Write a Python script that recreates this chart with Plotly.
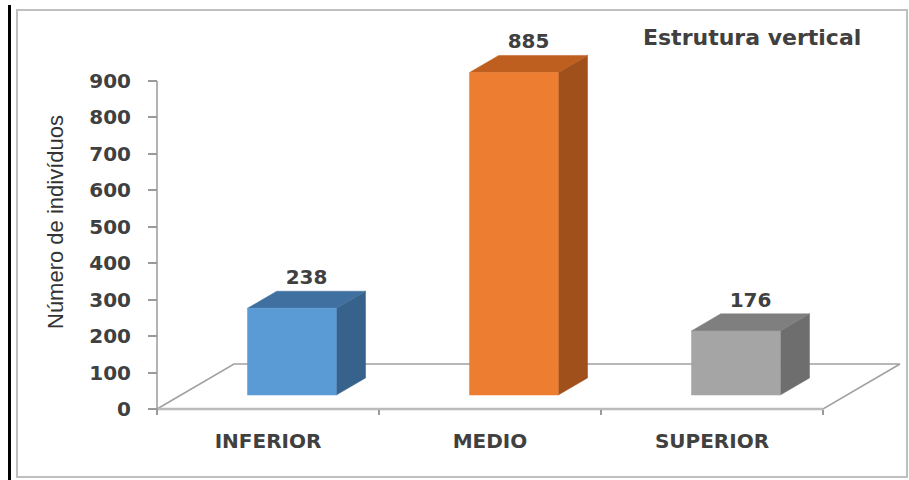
import plotly.graph_objects as go

# ---- data ----
categories = ["INFERIOR", "MEDIO", "SUPERIOR"]
values = [238, 885, 176]
y_ticks = [0, 100, 200, 300, 400, 500, 600, 700, 800, 900]
front_colors = ["#5B9BD5", "#ED7D31", "#A5A5A5"]
top_colors = ["#40709F", "#BE5F1F", "#7F7F7F"]
side_colors = ["#36628C", "#A0511B", "#6E6E6E"]

# ---- layout geometry (pixels) ----
W, H = 909, 480
X0_PX = 157.0          # floor front-left corner x
Y0_PX = 409.0          # value 0 at floor front
PX_PER_CAT = 222.0
PX_PER_UNIT = 328.0 / 900.0

x_range = [-0.5 - X0_PX / PX_PER_CAT, -0.5 + (W - X0_PX) / PX_PER_CAT]
y_range = [-(H - Y0_PX) / PX_PER_UNIT, Y0_PX / PX_PER_UNIT]

# 3D depth of floor (in data units)
DX = 77.0 / PX_PER_CAT
DY = 45.0 / PX_PER_UNIT
F1, F2 = 0.31, 0.69     # bar front/back depth fractions
HW = 0.20               # bar half width (category units)

n = len(categories)
fig = go.Figure()

# floor
fx = [-0.5, n - 0.5, n - 0.5 + DX, -0.5 + DX, -0.5]
fy = [0, 0, DY, DY, 0]
fig.add_trace(go.Scatter(x=fx, y=fy, mode="lines", fill="toself", fillcolor="white",
                         line=dict(color="#A0A0A0", width=1.5), hoverinfo="skip", showlegend=False))
# front edge of floor (thicker)
fig.add_trace(go.Scatter(x=[-0.5, n - 0.5], y=[0, 0], mode="lines",
                         line=dict(color="#BBBBBB", width=2.5), hoverinfo="skip", showlegend=False))
# vertical axis line
fig.add_trace(go.Scatter(x=[-0.5, -0.5], y=[-12, y_ticks[-1]], mode="lines",
                         line=dict(color="#9A9A9A", width=1.5), hoverinfo="skip", showlegend=False))

lab_x, lab_y = [], []
for i, v in enumerate(values):
    c = i
    xl1, xr1 = c + F1 * DX - HW, c + F1 * DX + HW
    xl2, xr2 = c + F2 * DX - HW, c + F2 * DX + HW
    yb1, yb2 = F1 * DY, F2 * DY
    # side face
    fig.add_trace(go.Scatter(x=[xr1, xr2, xr2, xr1, xr1], y=[yb1 + v, yb2 + v, yb2, yb1, yb1 + v],
                             mode="lines", fill="toself", fillcolor=side_colors[i],
                             line=dict(color=side_colors[i], width=0.5), hoverinfo="skip", showlegend=False))
    # top face
    fig.add_trace(go.Scatter(x=[xl1, xr1, xr2, xl2, xl1], y=[yb1 + v, yb1 + v, yb2 + v, yb2 + v, yb1 + v],
                             mode="lines", fill="toself", fillcolor=top_colors[i],
                             line=dict(color=top_colors[i], width=0.5), hoverinfo="skip", showlegend=False))
    # front face
    fig.add_trace(go.Scatter(x=[xl1, xr1, xr1, xl1, xl1], y=[yb1, yb1, yb1 + v, yb1 + v, yb1],
                             mode="lines", fill="toself", fillcolor=front_colors[i],
                             line=dict(color=front_colors[i], width=0.5), hoverinfo="skip", showlegend=False))
    lab_x.append(c + (F1 + F2) / 2 * DX)
    lab_y.append(yb2 + v + 12.0 / PX_PER_UNIT)

text_color = "#404040"

# data labels
fig.add_trace(go.Scatter(x=lab_x, y=lab_y, mode="text", text=[str(v) for v in values],
                         textposition="middle center",
                         textfont=dict(family="DejaVu Sans", size=20, color=text_color, weight="bold"),
                         hoverinfo="skip", showlegend=False, cliponaxis=False))

# dummy trace to carry the category / value axes
fig.add_trace(go.Scatter(x=categories, y=values, xaxis="x2", yaxis="y2", mode="markers",
                         marker=dict(opacity=0), hoverinfo="skip", showlegend=False))

tick_font = dict(family="DejaVu Sans", size=20, color=text_color, weight="bold")

fig.update_layout(
    width=W, height=H, autosize=False,
    margin=dict(l=0, r=0, t=0, b=0),
    paper_bgcolor="white", plot_bgcolor="white",
    xaxis=dict(range=x_range, visible=False, fixedrange=True),
    yaxis=dict(range=y_range, visible=False, fixedrange=True),
    xaxis2=dict(overlaying="x", anchor="free", position=(H - Y0_PX) / H, side="bottom",
                type="category", categoryorder="array", categoryarray=categories,
                range=x_range, tickson="boundaries", ticks="outside", ticklen=5,
                tickcolor="#9A9A9A", tickwidth=1.5, showline=False, showgrid=False, zeroline=False,
                tickfont=tick_font, ticklabelstandoff=18),
    yaxis2=dict(overlaying="y", anchor="free", position=X0_PX / W, side="left",
                range=y_range, tickvals=y_ticks, ticks="outside", ticklen=9,
                tickcolor="#9A9A9A", tickwidth=1.5, showline=False, showgrid=False, zeroline=False,
                tickfont=tick_font, ticklabelstandoff=13),
    annotations=[
        dict(text="Estrutura vertical", xref="paper", yref="paper", x=752 / W, y=1 - 38 / H,
             xanchor="center", yanchor="middle", showarrow=False,
             font=dict(family="DejaVu Sans", size=22, color=text_color, weight="bold")),
        dict(text="Número de indivíduos", xref="paper", yref="paper", x=55 / W, y=1 - 222 / H,
             xanchor="center", yanchor="middle", textangle=-90, showarrow=False,
             font=dict(family="Liberation Sans", size=22, color="#333333")),
    ],
    shapes=[
        dict(type="rect", xref="paper", yref="paper", x0=17 / W, x1=907 / W, y0=1 - 477 / H, y1=1 - 10 / H,
             line=dict(color="#BFBFBF", width=2), layer="below"),
        dict(type="line", xref="paper", yref="paper", x0=9.5 / W, x1=9.5 / W, y0=0, y1=1 - 5 / H,
             line=dict(color="black", width=3)),
    ],
)

fig.write_html("out.html")
